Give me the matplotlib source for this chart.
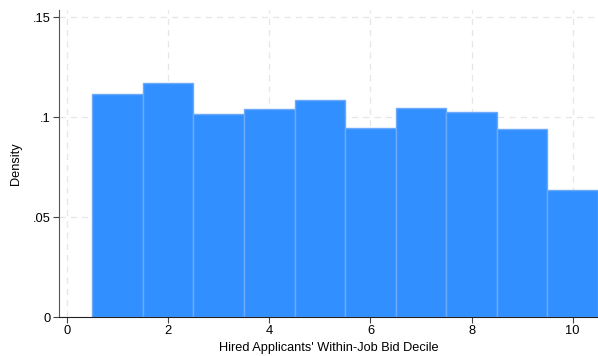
import numpy as np
from matplotlib import pyplot as plt

plt.rcParams['font.family'] = ['Liberation Sans', 'DejaVu Sans']

deciles = np.arange(1, 11)
density = [0.1115, 0.117, 0.1015, 0.104, 0.1085, 0.0945, 0.1045, 0.1025, 0.094, 0.0635]
yticks = [0, 0.05, 0.1, 0.15]
ytick_labels = ["0", ".05", ".1", ".15"]
xticks = [0, 2, 4, 6, 8, 10]

fig = plt.figure(figsize=(5.98, 3.56), dpi=100)
ax = fig.add_axes([59/598, 39/356, 539/598, 307/356])

ax.bar(deciles, density, width=1.0, color="#318fff", edgecolor="#6eaafc", linewidth=1.0, zorder=2)

ax.set_xlim(-0.16, 10.5)
ax.set_ylim(0, 0.1535)
ax.set_xticks(xticks)
ax.set_yticks(yticks)
ax.set_yticklabels(ytick_labels)
ax.grid(True, color="#e6e6e6", linestyle=(0, (5, 4)), linewidth=0.9, zorder=0)
ax.set_axisbelow(True)

for s in ["top", "right"]:
    ax.spines[s].set_visible(False)
ax.spines["left"].set_color("#555555")
ax.spines["bottom"].set_color("#222222")
ax.tick_params(axis="both", labelsize=9.3, length=4, color="#444444", pad=2)

ax.set_xlabel("Hired Applicants' Within-Job Bid Decile", fontsize=9.2, labelpad=3)
ax.set_ylabel("Density", fontsize=9.2, labelpad=8)

fig.savefig("out.png", dpi=100)
